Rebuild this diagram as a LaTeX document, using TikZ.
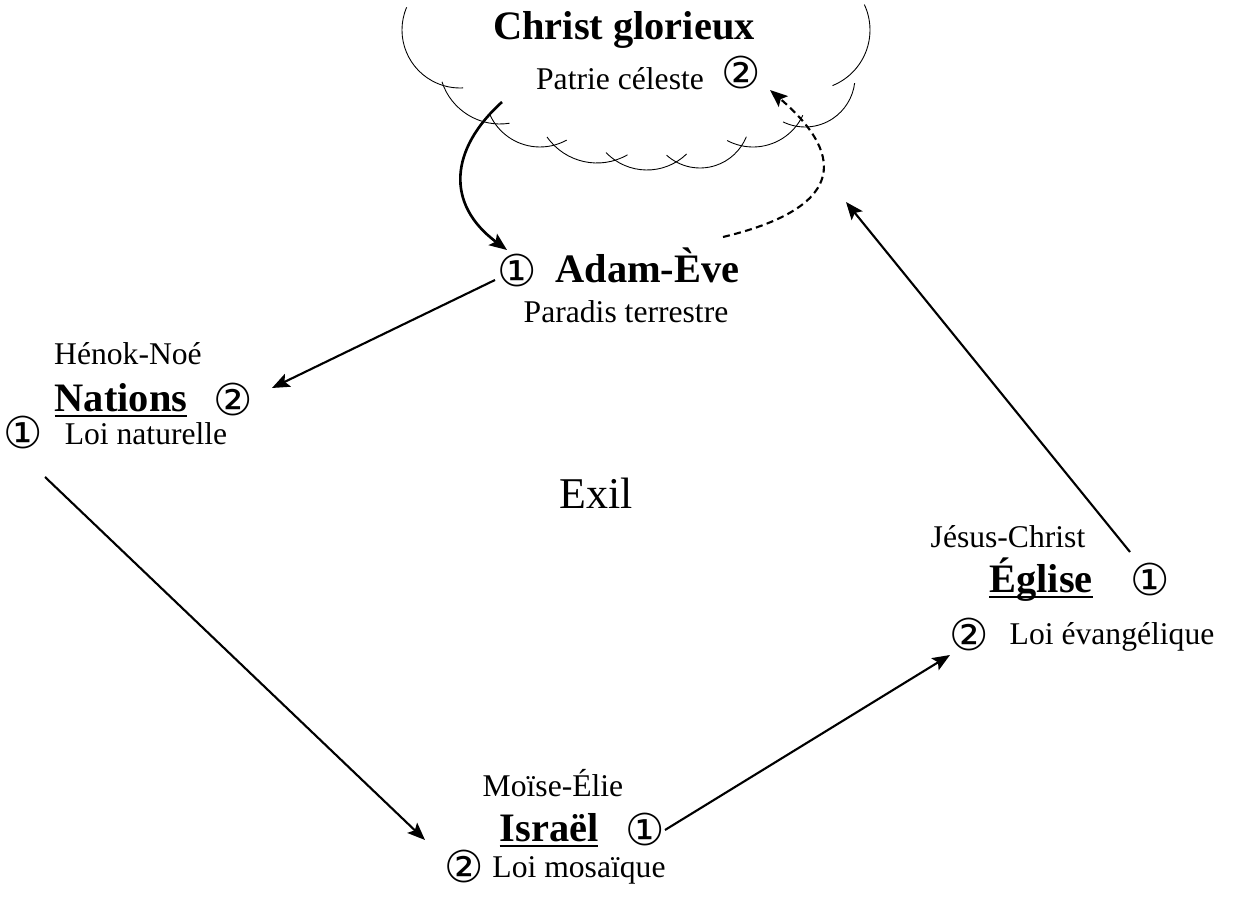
\documentclass[tikz,border=0pt]{standalone}
\usepackage{fontspec}
\setmainfont{Liberation Serif}
\newfontfamily\numfont{DejaVu Sans}
\usetikzlibrary{arrows.meta,calc}
\newcommand{\ulhead}[1]{\setbox0=\hbox{#1}\rlap{\rule[-2.8pt]{\wd0}{1.3pt}}\box0}

\begin{document}
\begin{tikzpicture}[x=0.02cm,y=0.02cm,
    txt/.style={anchor=base,inner sep=0pt,font=\fontsize{18}{21}\selectfont},
    head/.style={anchor=base,inner sep=0pt,font=\fontsize{23}{27}\selectfont\bfseries},
    num/.style={inner sep=0pt,font=\numfont\fontsize{25}{28}\selectfont},
    link/.style={-{Stealth[length=10pt,width=8pt,inset=2pt]},line width=1.2pt},
    cloudarc/.style={line width=0.5pt}]
    \useasboundingbox (0,0) rectangle (1234,899);

    % cloud
    \foreach \cx/\cy/\r/\a/\b in {460/869/58/157/273, 500/836/61/198/279,
        540/807/55/205/299, 597/797/61/215/300, 647/786/57/224/314,
        700/781/50/228/338, 753/807/55/242/335, 805/822/50/244/353,
        810/869/60/292/385}
        \draw[cloudarc] ([shift={(\a:\r)}]\cx,\cy) arc[start angle=\a,end angle=\b,radius=\r];

    \node[head] (christ) at (624,859) {Christ glorieux};
    \node[txt] (patrie) at (620,809) {Patrie céleste};
    \node[num] (pat2) at (741,826) {②};

    \node[num] (adam1) at (517,628) {①};
    \node[head] (adam) at (647.5,616) {Adam-Ève};
    \node[txt] (paradis) at (626,576) {Paradis terrestre};

    \node[txt] (henok) at (128,534) {Hénok-Noé};
    \node[head] (nations) at (121,487) {\ulhead{Nations}};
    \node[num] (nat2) at (233,499) {②};
    \node[num] (nat1) at (23,466) {①};
    \node[txt] (loinat) at (146,454) {Loi naturelle};

    \node[txt,font=\fontsize{25}{30}\selectfont] (exil) at (596,390) {Exil};

    \node[txt] (jesus) at (1008,351) {Jésus-Christ};
    \node[head] (eglise) at (1041,306) {\ulhead{Église}};
    \node[num] (egl1) at (1150,319) {①};
    \node[num] (evan2) at (969,264) {②};
    \node[txt] (loievan) at (1112,254) {Loi évangélique};

    \node[txt] (moise) at (553,102) {Moïse-Élie};
    \node[head] (israel) at (549,57) {\ulhead{Israël}};
    \node[num] (isr1) at (645,69) {①};
    \node[num] (mos2) at (464,32) {②};
    \node[txt] (loimos) at (579,21) {Loi mosaïque};

    \draw[link] ($(adam1)+(-22,-9)$) -- ($(nat2)+(39,12)$);
    \draw[link] ($(nat1)+(22,-44)$) -- ($(israel.base)+(-124,2)$);
    \draw[link] ($(isr1)+(20,0)$) -- ($(evan2)+(-19,-20)$);
    \draw[link] ($(egl1)+(-20,28)$) -- ($(pat2)+(105,-129)$);

    \draw[link,line width=1.5pt] ($(patrie.base)+(-118,-12)$)
        .. controls (450,750) and (445,695) .. ($(adam1)+(-10,21)$);
    \draw[link,dash pattern=on 4pt off 2.5pt] ($(adam.base)+(75.5,46)$)
        .. controls (840,690) and (850,740) .. ($(pat2)+(29,-17)$);
\end{tikzpicture}
\end{document}
